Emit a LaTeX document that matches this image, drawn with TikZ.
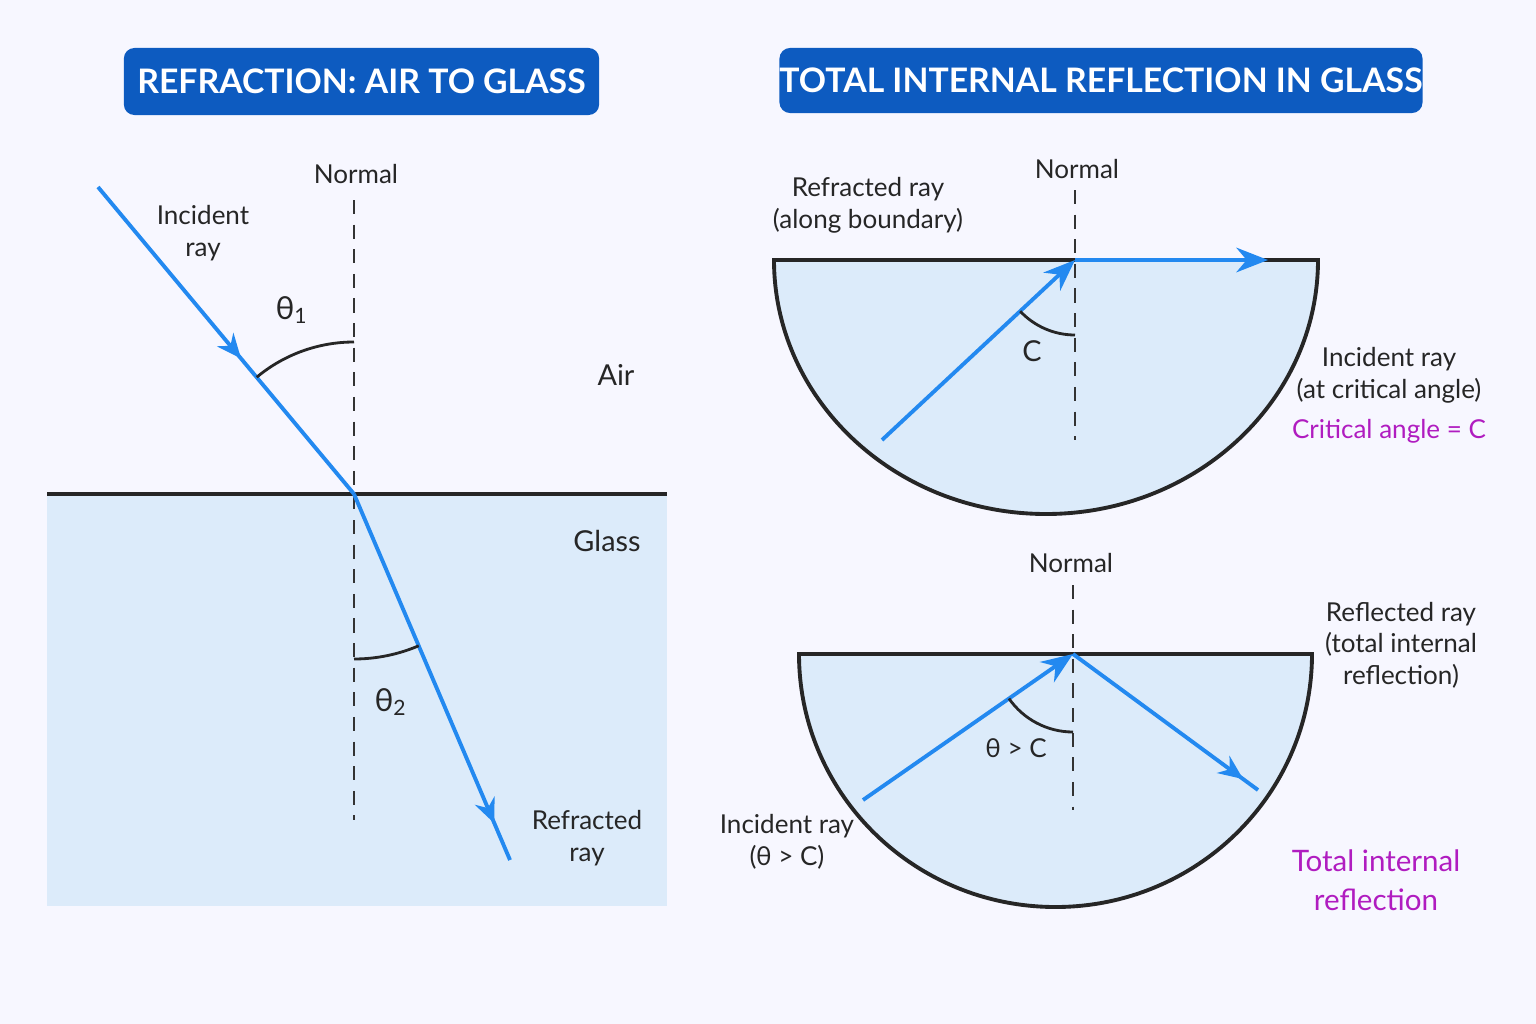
\documentclass[tikz,border=0pt]{standalone}
\usepackage{fontspec}
\setmainfont{Lato}
\usetikzlibrary{arrows.meta,decorations.markings}
\definecolor{titleblue}{HTML}{0D5BC0}
\definecolor{glass}{HTML}{DCEBFA}
\definecolor{raycol}{HTML}{2389F0}
\definecolor{note}{HTML}{B01CC0}
\tikzset{
    title/.style={fill=titleblue, rounded corners=3pt, text=white, font=\fontsize{9.6}{11}\selectfont\bfseries, inner sep=0pt},
    lbl/.style={font=\fontsize{7.4}{9}\selectfont, text=black!85, align=center},
    normal/.style={dashed, dash pattern=on 4pt off 3pt, thick, black!80},
    lightray/.style={draw=raycol, line width=1.1pt},
    midarrow/.style={postaction={decorate}, decoration={markings, mark=at position #1 with {\arrow[raycol]{Stealth[length=7pt,width=6pt]}}}},
}
\begin{document}
\begin{tikzpicture}[x=0.01cm, y=-0.01cm]
    \useasboundingbox (0,0) rectangle (1536,1024);
    \fill[white!97!blue] (0,0) rectangle (1536,1024);
    % Titles
    \node[title, minimum width=4.75cm, minimum height=0.67cm] (t1) at (361.5,81.5) {REFRACTION: AIR TO GLASS};
    \node[title, minimum width=5.68cm, minimum height=0.65cm] (t2) at (1101,80.5) {TOTAL INTERNAL REFLECTION IN GLASS};
    % Left panel
    \fill[glass] (47,494) rectangle (667,906);
    \coordinate (b1) at (47,494);
    \coordinate (b2) at (667,494);
    \coordinate (o) at (354,494);
    \coordinate (n1) at (354,200);
    \coordinate (n2) at (354,820);
    \coordinate (src) at (98,187);
    \coordinate (dst) at (510,860);
    \draw[black!85, line width=1.1pt] (b1) -- (b2);
    \draw[normal] (n1) -- (n2);
    \draw[lightray, midarrow=0.56] (src) -- (o);
    \draw[lightray, midarrow=0.9] (o) -- (dst);
    \draw[black!85, thick] (354,342) arc[start angle=-90, end angle=-129.8, radius=152];
    \draw[black!85, thick] (354,659) arc[start angle=90, end angle=66.9, radius=165];
    \node[lbl] (nl) at (356,174) {Normal};
    \node[lbl] (ir) at (203,233) {Incident\\ray};
    \node[lbl, font=\fontsize{9}{10}\selectfont] (th1) at (292,310) {θ\textsubscript{1}};
    \node[lbl, font=\fontsize{8.2}{10}\selectfont] (air) at (616,375) {Air};
    \node[lbl, font=\fontsize{8.2}{10}\selectfont] (gl) at (607,541) {Glass};
    \node[lbl, font=\fontsize{9}{10}\selectfont] (th2) at (391,702) {θ\textsubscript{2}};
    \node[lbl] (rr) at (587,838) {Refracted\\ray};
    % Top right: critical angle
    \fill[glass, draw=black!85, line width=1.1pt] (774,260) -- (1318,260) arc[start angle=0, end angle=180, x radius=272, y radius=254] -- cycle;
    \coordinate (o2) at (1075,260);
    \coordinate (m1) at (1075,190);
    \coordinate (m2) at (1075,440);
    \coordinate (s2) at (882,440);
    \coordinate (e2) at (1268,260);
    \draw[normal] (m1) -- (m2);
    \draw[lightray, -{Stealth[length=9pt,width=7pt]}] (s2) -- (o2);
    \draw[lightray, -{Stealth[length=9pt,width=7pt]}] (o2) -- (e2);
    \draw[black!85, thick] (1075,335) arc[start angle=90, end angle=137, radius=75];
    \node[lbl] (nl2) at (1077,169) {Normal};
    \node[lbl] (rr2) at (868,205) {Refracted ray\\(along boundary)};
    \node[lbl, font=\fontsize{8.2}{10}\selectfont] (c) at (1032,351) {C};
    \node[lbl] (ir2) at (1389,375) {Incident ray\\(at critical angle)};
    \node[lbl, text=note] (ca) at (1389,431) {Critical angle = C};
    % Bottom right: total internal reflection
    \fill[glass, draw=black!85, line width=1.1pt] (799,654) -- (1312,654) arc[start angle=0, end angle=180, x radius=256.5, y radius=253] -- cycle;
    \coordinate (o3) at (1073,654);
    \coordinate (k1) at (1073,585);
    \coordinate (k2) at (1073,810);
    \coordinate (s3) at (863,800);
    \coordinate (e3) at (1258,790);
    \draw[normal] (k1) -- (k2);
    \draw[lightray, -{Stealth[length=9pt,width=7pt]}] (s3) -- (o3);
    \draw[lightray, midarrow=0.92] (o3) -- (e3);
    \draw[black!85, thick] (1073,732) arc[start angle=90, end angle=145.2, radius=78];
    \node[lbl] (nl3) at (1071,563) {Normal};
    \node[lbl] (th3) at (1016,748) {θ > C};
    \node[lbl] (rf3) at (1401,645) {Reflected ray\\(total internal\\reflection)};
    \node[lbl] (ir3) at (787,842) {Incident ray\\(θ > C)};
    \node[lbl, text=note, font=\fontsize{8.4}{11}\selectfont] (tir) at (1376,880) {Total internal\\reflection};
\end{tikzpicture}
\end{document}
